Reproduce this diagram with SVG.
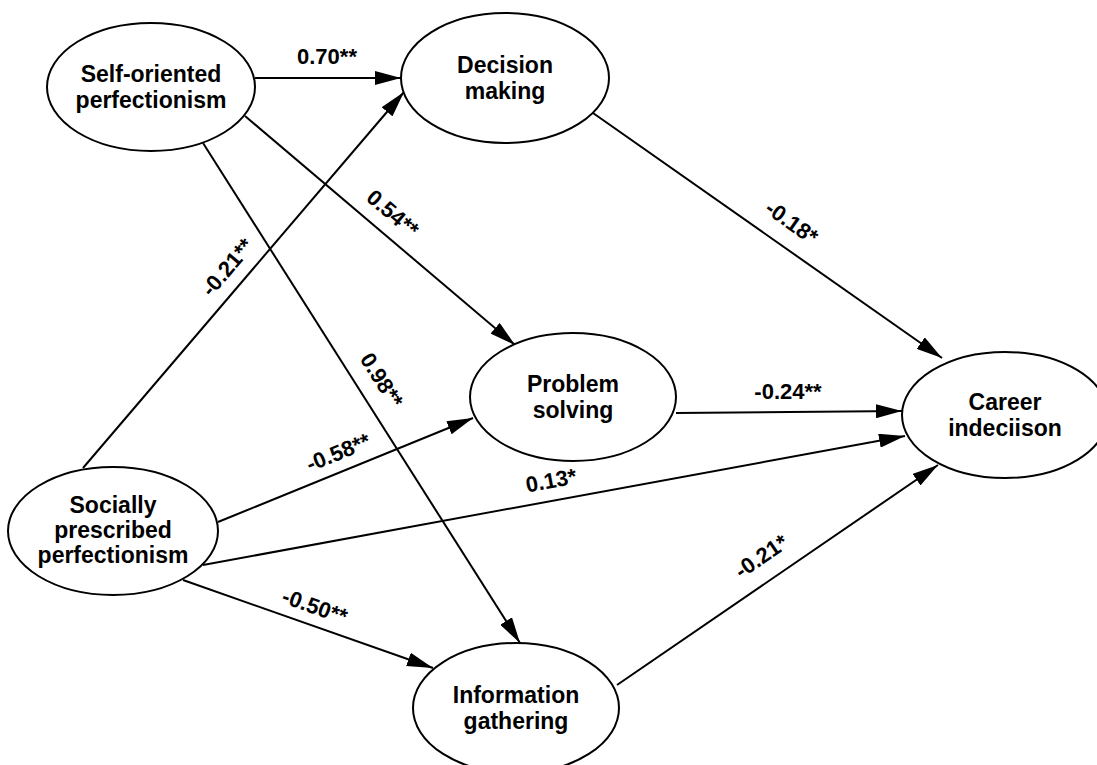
<svg xmlns="http://www.w3.org/2000/svg" width="1097" height="765" viewBox="0 0 1097 765">
<style>
.node ellipse{fill:#fff;stroke:#000;stroke-width:2}
.node text{font-family:"Liberation Sans",Arial,sans-serif;font-weight:bold;font-size:23px;text-anchor:middle;fill:#000}
.edge{stroke:#000;stroke-width:2;fill:none;marker-end:url(#arr)}
.lbl{font-family:"Liberation Sans",Arial,sans-serif;font-weight:bold;font-size:22px;text-anchor:middle;fill:#000}
</style>
<defs>
<marker id="arr" markerUnits="userSpaceOnUse" markerWidth="26" markerHeight="14" refX="26" refY="7" orient="auto">
<path d="M0,0 L26,7 L0,14 z" fill="#000"/>
</marker>
</defs>
<rect width="1097" height="765" fill="#fff"/>
<g id="connectors">
<line class="edge" x1="255" y1="78" x2="401" y2="78"/>
<line class="edge" x1="83" y1="468" x2="404" y2="92"/>
<line class="edge" x1="245" y1="116" x2="515" y2="345"/>
<line class="edge" x1="203" y1="143" x2="520" y2="643"/>
<line class="edge" x1="218" y1="522" x2="473" y2="418"/>
<line class="edge" x1="203" y1="565" x2="905" y2="436"/>
<line class="edge" x1="183" y1="580" x2="433" y2="668"/>
<line class="edge" x1="593" y1="113" x2="942" y2="358"/>
<line class="edge" x1="676" y1="413" x2="902" y2="411"/>
<line class="edge" x1="617" y1="685" x2="938" y2="465"/>
<text class="lbl" x="327" y="64">0.70**</text>
<text class="lbl" transform="translate(227,267) rotate(-49.6)" x="0" y="8">-0.21**</text>
<text class="lbl" transform="translate(393,213) rotate(40.3)" x="0" y="8">0.54**</text>
<text class="lbl" transform="translate(382,380) rotate(57.6)" x="0" y="8">0.98**</text>
<text class="lbl" transform="translate(792,222) rotate(35.4)" x="0" y="8">-0.18*</text>
<text class="lbl" x="788" y="399">-0.24**</text>
<text class="lbl" transform="translate(338,452) rotate(-22.2)" x="0" y="8">-0.58**</text>
<text class="lbl" transform="translate(551,480) rotate(-10.3)" x="0" y="8">0.13*</text>
<text class="lbl" transform="translate(315,606) rotate(19.4)" x="0" y="8">-0.50**</text>
<text class="lbl" transform="translate(761,556) rotate(-34.4)" x="0" y="8">-0.21*</text>
</g>
<g id="self-oriented" class="node">
<ellipse cx="151" cy="87" rx="104" ry="64"/>
<text x="151" y="82">Self-oriented</text>
<text x="151" y="108">perfectionism</text>
</g>
<g id="decision-making" class="node">
<ellipse cx="505" cy="78" rx="104" ry="65"/>
<text x="505" y="73">Decision</text>
<text x="505" y="99">making</text>
</g>
<g id="socially-prescribed" class="node">
<ellipse cx="113" cy="531" rx="105" ry="64"/>
<text x="113" y="513">Socially</text>
<text x="113" y="538">prescribed</text>
<text x="113" y="563">perfectionism</text>
</g>
<g id="problem-solving" class="node">
<ellipse cx="573" cy="397" rx="103" ry="64"/>
<text x="573" y="392">Problem</text>
<text x="573" y="418">solving</text>
</g>
<g id="career-indecision" class="node">
<ellipse cx="1005" cy="415" rx="103" ry="63"/>
<text x="1005" y="410">Career</text>
<text x="1005" y="436">indeciison</text>
</g>
<g id="information-gathering" class="node">
<ellipse cx="516" cy="708" rx="103" ry="65"/>
<text x="516" y="703">Information</text>
<text x="516" y="729">gathering</text>
</g>
</svg>
